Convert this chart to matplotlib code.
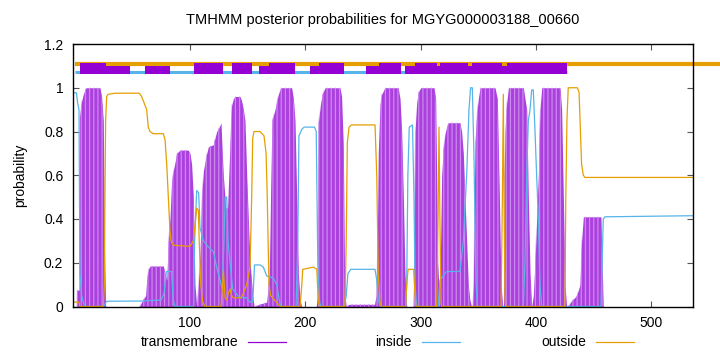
import matplotlib
matplotlib.use("Agg")
import matplotlib.pyplot as plt
from matplotlib.lines import Line2D

plt.rcParams['font.family'] = ['Liberation Sans', 'DejaVu Sans']
plt.rcParams['hatch.linewidth'] = 0.9

# posterior probabilities (residue, probability)
tm_pos = [0, 1.5, 1.7, 3.7, 4.0, 6, 7.4, 9.8, 21.9, 23.3, 24.8, 25.7, 26.8,
          56, 58, 61.5, 62.4, 63.8, 65.3, 76.9, 78.4, 79.8,
          81.2, 82.6, 84, 85.5, 87, 88.4, 91.3, 98.5, 100, 101.4, 102.9, 104.3, 105.8,
          107.2, 108.7, 110.1, 111.6, 113, 114.5, 115.9, 120.3, 121.7, 123.1, 125.4, 126.9,
          128, 128.9, 131, 132.6, 134.7, 136.1, 137.6, 139, 143.4, 144.8, 146.3, 147.7,
          149.2, 150.6, 152.1, 154.4, 155.6, 160, 166.5,
          168.8, 170, 171.1, 173.7, 176.6, 178.7, 188.2, 189.7, 191.1, 192.6, 194, 195.5, 196.9,
          209.5, 210.5, 211.3, 213.3, 214.7, 217.1, 230.1, 231.5, 233, 233.8, 234.4, 235.5,
          238, 260, 261.5, 262.5, 263.3, 264.8, 266.2, 269.1, 280.6, 282.2, 283.6, 285.1, 286.5, 288,
          293.5, 294.3, 295.2, 296.6, 298.1, 300.1, 311.7, 313.1, 314, 314.9, 316,
          316.8, 318.3, 319.7, 321.2, 322.6, 324.1, 334.2, 335.6, 337.1, 338.5, 340, 341.4, 342.8, 344.3,
          345, 345.8, 347.2, 348.7, 350.1, 351.6, 364.6, 366.6, 368.4, 369.8, 371.3,
          372, 372.4, 373.3, 374.7, 376.2, 389.2, 390.6, 392.1, 393.5, 395, 396.4,
          397.8, 399.3, 400.7, 402.2, 403.6, 405.1, 421, 422.4, 423.9, 425.3, 426.7,
          428, 430, 435.4, 438.3, 439.7, 441.2, 456.5, 457.5, 458.5, 536]
tm_prob = [0, 0, 0.075, 0.075, 0.86, 0.94, 0.97, 1.0, 1.0, 0.96, 0.85, 0.3, 0.0,
           0, 0.02, 0.05, 0.12, 0.17, 0.185, 0.185, 0.15, 0.12,
           0.3, 0.4, 0.57, 0.62, 0.66, 0.70, 0.715, 0.715, 0.70, 0.65, 0.5, 0.1, 0.0,
           0.1, 0.25, 0.5, 0.62, 0.66, 0.7, 0.73, 0.74, 0.77, 0.8, 0.82, 0.84,
           0.7, 0.6, 0.45, 0.45, 0.75, 0.92, 0.95, 0.96, 0.96, 0.94, 0.9, 0.85,
           0.6, 0.4, 0.2, 0.05, 0.0, 0.01, 0.02,
           0.15, 0.55, 0.85, 0.9, 0.97, 1.0, 1.0, 0.95, 0.85, 0.5, 0.15, 0.03, 0.0,
           0.0, 0.05, 0.84, 0.93, 0.97, 1.0, 1.0, 0.96, 0.73, 0.3, 0.05, 0.0,
           0.01, 0.01, 0.05, 0.3, 0.7, 0.92, 0.97, 1.0, 1.0, 0.95, 0.8, 0.5, 0.15, 0.0,
           0.0, 0.2, 0.8, 0.93, 0.98, 1.0, 1.0, 0.95, 0.6, 0.2, 0.08,
           0.1, 0.6, 0.72, 0.79, 0.82, 0.84, 0.84, 0.8, 0.7, 0.5, 0.3, 0.1, 0.03, 0.0,
           0.0, 0.1, 0.75, 0.88, 0.95, 1.0, 1.0, 0.95, 0.5, 0.1, 0.0,
           0.0, 0.6, 0.8, 0.93, 1.0, 1.0, 0.95, 0.9, 0.5, 0.15, 0.0,
           0.05, 0.2, 0.4, 0.6, 0.9, 1.0, 1.0, 0.9, 0.5, 0.1, 0.0,
           0.0, 0.02, 0.05, 0.1, 0.3, 0.41, 0.41, 0.2, 0.0, 0.0]

in_pos = [0, 1.5, 2.5, 3.7, 4.5, 6, 8, 9, 25, 27.7, 60, 75, 77.5, 79.5, 84, 85.5, 87,
          103, 104, 105.8, 107.5, 108.7, 111.6, 114.5, 120.3, 123.1, 126, 128, 129.5, 130.5,
          131.8, 133, 134.7, 137, 143, 149, 152, 154.4, 156, 160.8, 163.6, 166.5, 172.3,
          175.2, 178.1, 179, 192, 193.5, 194.5, 197, 199, 208, 209.5, 211, 212.5, 213.5,
          234, 235.5, 237, 239.5, 260.5, 262, 263.3, 265, 287, 288, 289, 290.2, 293, 294.3,
          295.2, 296.6, 315.4, 316.8, 322.6, 334.2, 337.1, 338.5, 340, 342, 343.4, 344.9,
          346.3, 348.1, 349.5, 389.2, 390.6, 392.1, 393.5, 395, 396.4, 397.8, 399.3, 400.7,
          402.2, 403.6, 405.1, 456.5, 457.5, 458.5, 460, 536]
in_prob = [0.977, 0.977, 0.93, 0.90, 0.15, 0.05, 0.01, 0.0, 0.0, 0.024, 0.025, 0.03, 0.06,
           0.16, 0.16, 0.03, 0.0, 0.0, 0.3, 0.53, 0.52, 0.36, 0.3, 0.28, 0.25, 0.18, 0.12,
           0.08, 0.3, 0.5, 0.5, 0.3, 0.2, 0.08, 0.04, 0.04, 0.02, 0.02, 0.19, 0.19, 0.18,
           0.14, 0.13, 0.1, 0.01, 0.0, 0.0, 0.3, 0.78, 0.81, 0.82, 0.82, 0.8, 0.15, 0.02,
           0.0, 0.0, 0.05, 0.15, 0.17, 0.17, 0.12, 0.03, 0.0, 0.0, 0.1, 0.6, 0.82, 0.83,
           0.5, 0.1, 0.0, 0.0, 0.12, 0.16, 0.16, 0.3, 0.45, 0.6, 0.9, 1.0, 1.0, 0.7, 0.1,
           0.0, 0.0, 0.2, 0.6, 0.85, 0.9, 0.99, 0.99, 0.8, 0.6, 0.4, 0.1, 0.0, 0.0, 0.2,
           0.4, 0.41, 0.415]

out_pos = [0, 3.7, 4.3, 24.8, 25.7, 26.2, 26.8, 27.7, 29, 35, 56, 58, 59.5, 62.4, 63.8,
           65.3, 68, 76.9, 78.4, 79.8, 81.2, 82.6, 83.5, 85.5, 100, 102.9, 104.3, 105.8,
           107.2, 108, 109.3, 111, 113, 126.9, 128.2, 129, 130.4, 131.8, 133.2, 134.7, 136,
           137.6, 144, 146.3, 149.2, 152.1, 153.5, 154.4, 155.6, 160.8, 164.2, 166, 167,
           168.5, 170, 175, 178.1, 195.5, 197, 197.8, 207, 210, 211.3, 212.5, 234.4, 235.5,
           236.5, 238, 240, 260.5, 262, 263.3, 264.8, 266, 287, 288, 289.2, 294, 295.2, 296,
           314, 315.2, 316, 316.8, 317.8, 318.5, 369.8, 371, 371.8, 372.4, 373.3, 374,
           425.3, 426, 427, 428.1, 436, 437.5, 439.7, 441.2, 442.6, 536]
out_prob = [0.02, 0.02, 0.0, 0.0, 0.1, 0.5, 0.85, 0.96, 0.97, 0.975, 0.975, 0.96, 0.94,
            0.9, 0.82, 0.80, 0.79, 0.79, 0.76, 0.65, 0.5, 0.35, 0.3, 0.28, 0.275, 0.3, 0.37,
            0.45, 0.44, 0.3, 0.1, 0.02, 0.0, 0.0, 0.1, 0.165, 0.04, 0.03, 0.06, 0.08, 0.05,
            0.04, 0.04, 0.06, 0.1, 0.18, 0.5, 0.77, 0.8, 0.8, 0.78, 0.7, 0.5, 0.1, 0.05,
            0.02, 0.0, 0.0, 0.1, 0.17, 0.18, 0.17, 0.02, 0.0, 0.0, 0.3, 0.75, 0.82, 0.83,
            0.83, 0.6, 0.15, 0.02, 0.0, 0.0, 0.1, 0.17, 0.17, 0.05, 0.0, 0.0, 0.4, 0.82,
            0.4, 0.02, 0.0, 0.0, 0.5, 0.97, 0.5, 0.03, 0.0, 0.0, 0.5, 0.85, 1.0, 1.0, 0.98,
            0.65, 0.6, 0.59, 0.59]

# predicted topology strip at the top (residue ranges)
tall_start = [4.6, 103.5, 136.4, 168.5, 211.9, 264.0, 295.2, 316.9, 344.7, 375.1]
tall_end = [27.2, 128.6, 153.8, 191.1, 233.6, 283.2, 314.3, 341.2, 370.7, 427.1]
short_start = [27.2, 60.9, 159.8, 204.1, 252.7, 286.5, 314.3, 341.2, 370.7]
short_end = [48.0, 82.6, 168.5, 211.9, 264.0, 295.2, 316.9, 344.7, 375.1]
inside_end = 427.1
seq_len = 536

title = "TMHMM posterior probabilities for MGYG000003188_00660"
labels = ["transmembrane", "inside", "outside"]

c_tm = '#9400d3'
c_in = '#56b4e9'
c_out = '#e69f00'

fig = plt.figure(figsize=(7.2, 3.52), dpi=100)
ax = fig.add_axes([73 / 720, 1 - 306.5 / 352, 619.6 / 720, 262.5 / 352])

# transmembrane posterior (gnuplot impulses look: filled with light stripes)
ax.fill_between(tm_pos, 0, tm_prob, color='#ab40de', linewidth=0, zorder=2)
ax.fill_between(tm_pos, 0, tm_prob, facecolor='none', edgecolor='#cc88ee',
                hatch='||||', linewidth=0, zorder=2.1)
ax.plot(in_pos, in_prob, color=c_in, lw=0.9, zorder=3)
ax.plot(out_pos, out_prob, color=c_out, lw=0.9, zorder=3)

# topology strip
ax.plot([0, 565], [1.110, 1.110], color=c_out, lw=3, solid_capstyle='butt',
        clip_on=False, zorder=3)
ax.plot([0, inside_end], [1.071, 1.071], color=c_in, lw=2.2, solid_capstyle='butt', zorder=3)
tall_w = [e - s for s, e in zip(tall_start, tall_end)]
short_w = [e - s for s, e in zip(short_start, short_end)]
ax.bar(tall_start, 1.113 - 1.064, tall_w, bottom=1.064, align='edge',
       color=c_tm, linewidth=0, zorder=4)
ax.bar(short_start, 1.101 - 1.064, short_w, bottom=1.064, align='edge',
       color=c_tm, linewidth=0, zorder=4)

ax.set_xlim(-1.5, seq_len)
ax.set_ylim(0, 1.2)
ax.set_xticks([100, 200, 300, 400, 500])
ax.set_yticks([0, 0.2, 0.4, 0.6, 0.8, 1.0, 1.2])
ax.set_yticklabels(['0', '0.2', '0.4', '0.6', '0.8', '1', '1.2'])
ax.tick_params(direction='in', length=4, width=0.8, color='#555555',
               top=True, right=True, labelsize=10, pad=7)
ax.set_axisbelow(True)
for sp in ax.spines.values():
    sp.set_linewidth(1.0)
    sp.set_zorder(5)
ax.set_ylabel('probability', fontsize=10, labelpad=12)

fig.text(383 / 720, 1 - 20 / 352, title, ha='center', va='center', fontsize=10.5)

# key below the plot
key_text_x = [238, 412, 586]
key_cols = [c_tm, c_in, c_out]
ky = 1 - 342 / 352
for lab, tx, col in zip(labels, key_text_x, key_cols):
    fig.text(tx / 720, ky, lab, ha='right', va='center', fontsize=10)
    fig.add_artist(Line2D([(tx + 10) / 720, (tx + 48) / 720], [ky, ky], color=col, lw=0.9))

fig.savefig('out.png', dpi=100)
